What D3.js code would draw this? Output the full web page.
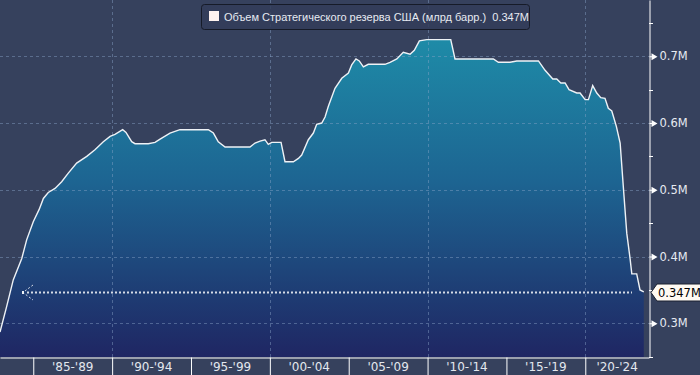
<!DOCTYPE html>
<html>
<head>
<meta charset="utf-8">
<script src="https://cdn.jsdelivr.net/npm/d3@7"></script>
<style>
  html, body { margin: 0; padding: 0; background: #36415d; }
  svg { display: block; }
</style>
</head>
<body>
<div id="chart"></div>
<script>
// SPR volume - area chart, dark terminal style

const years = [
    1982.89, 1983.31, 1983.73, 1984.27, 1984.58, 1985.00, 1985.38, 1985.64, 1985.95, 1986.38,
    1986.80, 1987.22, 1987.75, 1988.39, 1988.91, 1989.44, 1989.87, 1990.18, 1990.67, 1990.88,
    1991.24, 1991.45, 1992.29, 1992.72, 1993.04, 1993.67, 1994.30, 1996.10, 1996.42, 1996.73,
    1997.16, 1998.74, 1999.06, 1999.38, 1999.69, 1999.90, 2000.12, 2000.71, 2000.96, 2001.49,
    2001.81, 2002.02, 2002.44, 2002.76, 2002.97, 2003.29, 2003.50, 2003.71, 2004.13, 2004.56,
    2004.98, 2005.19, 2005.46, 2005.67, 2005.93, 2006.24, 2007.30, 2007.62, 2008.05, 2008.46,
    2008.89, 2009.16, 2009.48, 2009.95, 2011.47, 2011.74, 2012.48, 2013.12, 2014.17, 2014.49,
    2015.23, 2015.66, 2017.03, 2017.45, 2017.94, 2018.19, 2018.45, 2018.72, 2018.97, 2019.46,
    2019.67, 2019.99, 2020.20, 2020.47, 2020.73, 2020.98, 2021.25, 2021.46, 2021.68, 2021.97,
    2022.21, 2022.41, 2022.63, 2022.84, 2022.95, 2023.26, 2023.47, 2023.71
];
const volumes = [
    0.287, 0.325, 0.365, 0.397, 0.425, 0.452, 0.471, 0.487, 0.496, 0.502,
    0.512, 0.525, 0.540, 0.550, 0.560, 0.572, 0.580, 0.583, 0.590, 0.586,
    0.572, 0.569, 0.569, 0.571, 0.576, 0.585, 0.590, 0.590, 0.585, 0.572,
    0.564, 0.564, 0.570, 0.573, 0.575, 0.568, 0.571, 0.571, 0.542, 0.542,
    0.547, 0.552, 0.575, 0.585, 0.598, 0.600, 0.609, 0.625, 0.652, 0.667,
    0.675, 0.687, 0.696, 0.693, 0.684, 0.688, 0.688, 0.691, 0.696, 0.706,
    0.703, 0.709, 0.723, 0.725, 0.725, 0.696, 0.696, 0.696, 0.696, 0.691,
    0.691, 0.693, 0.693, 0.679, 0.666, 0.666, 0.660, 0.660, 0.650, 0.645,
    0.645, 0.635, 0.635, 0.656, 0.645, 0.638, 0.637, 0.622, 0.618, 0.595,
    0.570, 0.505, 0.435, 0.397, 0.374, 0.374, 0.350, 0.347
];

const yTicks = [0.3, 0.4, 0.5, 0.6, 0.7];
const yMinorTicks = [0.25, 0.35, 0.45, 0.55, 0.65, 0.75];
const periodStarts = [1985, 1990, 1995, 2000, 2005, 2010, 2015, 2020];
const periodLabels = ["'85-'89", "'90-'94", "'95-'99", "'00-'04", "'05-'09", "'10-'14", "'15-'19", "'20-'24"];
const gridYears = [1990, 2000, 2010, 2020];
const lastValue = 0.347;
const seriesName = "Объем Стратегического резерва США (млрд барр.)";

const width = 700;
const height = 375;
const plotRight = 649;
const plotBottom = 357;
const font = "'DejaVu Sans', sans-serif";

const data = years.map((yr, i) => ({year: yr, value: volumes[i]}));

const svg = d3.select("#chart")
    .append("svg")
    .attr("width", width)
    .attr("height", height);

svg.append("rect")
    .attr("width", width)
    .attr("height", height)
    .attr("fill", "#36415d");

const x = d3.scaleLinear()
    .domain([1982.89, 2024.04])
    .range([0, plotRight]);

const y = d3.scaleLinear()
    .domain([0.2495, 0.7843])
    .range([plotBottom, 0]);

// gradient fill
const grad = svg.append("defs").append("linearGradient")
    .attr("id", "fillGrad")
    .attr("gradientUnits", "userSpaceOnUse")
    .attr("x1", 0).attr("x2", 0)
    .attr("y1", 35).attr("y2", plotBottom);
grad.append("stop").attr("offset", "0%").attr("stop-color", "#1e8ca8");
grad.append("stop").attr("offset", "45%").attr("stop-color", "#1d6592");
grad.append("stop").attr("offset", "100%").attr("stop-color", "#1f2663");

const area = d3.area()
    .x(d => x(d.year))
    .y0(plotBottom)
    .y1(d => y(d.value));

const line = d3.line()
    .x(d => x(d.year))
    .y(d => y(d.value));

svg.append("path")
    .datum(data)
    .attr("d", area)
    .attr("fill", "url(#fillGrad)");

// grid
svg.append("g")
    .selectAll("line")
    .data(yTicks)
    .join("line")
    .attr("x1", 0)
    .attr("x2", plotRight)
    .attr("y1", d => Math.round(y(d)) + 0.5)
    .attr("y2", d => Math.round(y(d)) + 0.5)
    .attr("stroke", "#8aa3c8")
    .attr("stroke-opacity", 0.45)
    .attr("stroke-dasharray", "3,3");

svg.append("g")
    .selectAll("line")
    .data(gridYears)
    .join("line")
    .attr("x1", d => Math.round(x(d)) + 0.5)
    .attr("x2", d => Math.round(x(d)) + 0.5)
    .attr("y1", 0)
    .attr("y2", plotBottom)
    .attr("stroke", "#8aa3c8")
    .attr("stroke-opacity", 0.45)
    .attr("stroke-dasharray", "3,3");

svg.append("path")
    .datum(data)
    .attr("d", line)
    .attr("fill", "none")
    .attr("stroke", "#eef2f6")
    .attr("stroke-width", 1.4);

// last value marker line
const yLast = Math.round(y(lastValue)) + 0.5;
svg.append("line")
    .attr("x1", 27)
    .attr("x2", 632)
    .attr("y1", yLast)
    .attr("y2", yLast)
    .attr("stroke", "#d5dbe6")
    .attr("stroke-width", 2)
    .attr("stroke-dasharray", "2,2");

svg.append("path")
    .attr("d", `M33,${yLast - 7.5}L23,${yLast}L33,${yLast + 7.5}`)
    .attr("fill", "none")
    .attr("stroke", "#d5dbe6")
    .attr("stroke-width", 1)
    .attr("stroke-dasharray", "2,2");

svg.append("rect")
    .attr("x", 22)
    .attr("y", yLast - 1.5)
    .attr("width", 2)
    .attr("height", 3)
    .attr("fill", "#eef2f6");

// right axis
const yAxis = svg.append("g")
    .attr("transform", `translate(${plotRight + 0.5},0)`)
    .call(d3.axisRight(y)
        .tickValues(yTicks)
        .tickSize(0)
        .tickPadding(10)
        .tickFormat(d => d3.format(".1f")(d) + "M"));

yAxis.attr("font-family", font)
    .attr("font-size", 11.5)
    .attr("color", "#e6eaf1");
yAxis.select(".domain").attr("stroke", "#ffffff");
yAxis.selectAll(".tick")
    .append("path")
    .attr("d", "M0,-0.5H3V0.5H0Z M2,-3.5L8,0L2,3.5Z")
    .attr("fill", "#ffffff");

svg.append("g")
    .selectAll("line")
    .data(yMinorTicks)
    .join("line")
    .attr("x1", plotRight)
    .attr("x2", plotRight + 4)
    .attr("y1", d => Math.round(y(d)) + 0.5)
    .attr("y2", d => Math.round(y(d)) + 0.5)
    .attr("stroke", "#ffffff");

// last value label
const lbl = svg.append("g").attr("transform", `translate(651,${yLast})`);
lbl.append("path")
    .attr("d", "M0,0L6,-8.5H52V8.5H6Z")
    .attr("fill", "#fffaf3")
    .attr("stroke", "#1a2030")
    .attr("stroke-width", 1);
lbl.append("text")
    .attr("x", 7)
    .attr("y", 4.5)
    .attr("font-family", font)
    .attr("font-size", 11.5)
    .attr("fill", "#000000")
    .text(d3.format(".3f")(lastValue) + "M");

// bottom axis
const xAxis = svg.append("g")
    .attr("transform", `translate(0,${plotBottom + 0.5})`)
    .call(d3.axisBottom(x)
        .tickValues(periodStarts)
        .tickSize(18)
        .tickSizeOuter(0)
        .tickFormat(""));
xAxis.select(".domain").attr("stroke", "#ffffff");
xAxis.selectAll(".tick line").attr("stroke", "#ffffff");

svg.append("g")
    .selectAll("text")
    .data(periodStarts)
    .join("text")
    .attr("x", (d, i) => (x(d) + Math.min(x(d + 5), plotRight)) / 2)
    .attr("y", 371)
    .attr("text-anchor", "middle")
    .attr("font-family", font)
    .attr("font-size", 12)
    .attr("fill", "#e3e7ee")
    .text((d, i) => periodLabels[i]);

// legend
const legend = svg.append("g");
legend.append("rect")
    .attr("x", 201.5)
    .attr("y", 4.5)
    .attr("width", 328)
    .attr("height", 25)
    .attr("rx", 3)
    .attr("fill", "#333d59")
    .attr("fill-opacity", 0.85)
    .attr("stroke", "#161b28");
legend.append("rect")
    .attr("x", 209)
    .attr("y", 11)
    .attr("width", 10)
    .attr("height", 10)
    .attr("fill", "#fff3ef");
legend.append("text")
    .attr("x", 224)
    .attr("y", 21)
    .attr("font-family", "'Liberation Sans', sans-serif")
    .attr("font-size", 11)
    .attr("fill", "#e6eaf1")
    .text(seriesName + "  " + d3.format(".3f")(lastValue) + "M")
    .attr("xml:space", "preserve")
    .style("white-space", "pre");
</script>
</body>
</html>
